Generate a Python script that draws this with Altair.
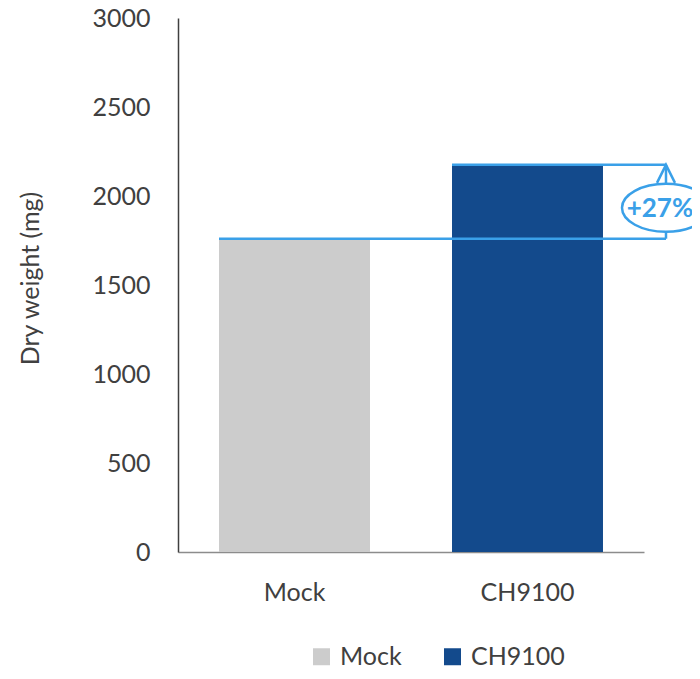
import altair as alt
import pandas as pd

categories = ["Mock", "CH9100"]
values = [1760, 2175]
bar_colors = ["#CCCCCC", "#134A8C"]
y_ticks = [0, 500, 1000, 1500, 2000, 2500, 3000]
pct_label = "+27%"
y_title = "Dry weight (mg)"

FONT = "Lato"
TXT = "#404040"
BLUE = "#3AA0E8"

bars_df = pd.DataFrame({"cat": categories, "value": values})
bracket_df = pd.DataFrame({
    "cat": [categories[1], categories[0]],
    "end": [categories[1], categories[1]],
    "value": [values[1], values[0]],
})
stem_df = pd.DataFrame({"cat": [categories[1]], "value": [values[0]], "value2": [values[1]]})
top_df = pd.DataFrame({"cat": [categories[1]], "value": [values[1]]})
label_df = pd.DataFrame({"cat": [categories[1]], "value": [(values[0] + values[1]) / 2], "label": [pct_label]})

xscale = alt.Scale(domain=categories, paddingInner=0.352, paddingOuter=0.176)
yscale = alt.Scale(domain=[0, 3000])
xaxis = alt.Axis(title=None, labelAngle=0, ticks=False, tickSize=0, labelPadding=28,
                 labelFontSize=25, labelFont=FONT, labelColor=TXT,
                 domainColor="#8C8C8C", domainWidth=1.5, grid=False)
yaxis = alt.Axis(title=y_title, values=y_ticks, format="d", ticks=False, tickSize=0, labelPadding=28,
                 labelFontSize=25, labelFont=FONT, labelColor=TXT,
                 domainColor="#404040", domainWidth=1.5, grid=False,
                 titleFont=FONT, titleFontSize=25, titleFontWeight="normal", titleColor=TXT,
                 titleAngle=270, titleX=-148, titleY=260, titleAlign="center", titleBaseline="middle")

def X(field="cat", **kw):
    return alt.X(f"{field}:N", scale=xscale, axis=xaxis, **kw)

def Y(field="value"):
    return alt.Y(f"{field}:Q", scale=yscale, axis=yaxis)

bars = alt.Chart(bars_df).mark_bar().encode(
    x=X(),
    y=Y(),
    color=alt.Color("cat:N", scale=alt.Scale(domain=categories, range=bar_colors),
                    legend=alt.Legend(title=None, orient="none", direction="horizontal",
                                      legendX=131, legendY=626, symbolType="square",
                                      symbolSize=289, symbolStrokeWidth=0,
                                      labelFontSize=25, labelFont=FONT, labelColor=TXT,
                                      labelOffset=6, columnPadding=38, padding=0)),
)

OFF = 63

brackets = alt.Chart(bracket_df).mark_rule(color=BLUE, strokeWidth=2.5, x2Offset=OFF).encode(
    x=X(bandPosition=0),
    x2=alt.X2("end:N", bandPosition=1),
    y=Y(),
)

stem = alt.Chart(stem_df).mark_rule(color=BLUE, strokeWidth=2.5, xOffset=OFF).encode(
    x=X(bandPosition=1),
    y=Y(),
    y2=alt.Y2("value2:Q"),
)

arrow = alt.Chart(top_df).mark_point(
    shape="M -1 1 L 0 -1 L 1 1", filled=False, color=BLUE, strokeWidth=2.5,
    size=324, opacity=1, xOffset=OFF, yOffset=9,
).encode(x=X(bandPosition=1), y=Y())

ellipse_path = ("M -1 0 C -1 -0.301 -0.552 -0.545 0 -0.545 C 0.552 -0.545 1 -0.301 1 0 "
                "C 1 0.301 0.552 0.545 0 0.545 C -0.552 0.545 -1 0.301 -1 0 Z")
ellipse = alt.Chart(label_df).mark_point(
    shape=ellipse_path, filled=True, fill="white", stroke=BLUE, strokeWidth=2.5,
    size=7744, opacity=1, fillOpacity=1, xOffset=OFF, yOffset=6,
).encode(x=X(bandPosition=1), y=Y())

label = alt.Chart(label_df).mark_text(
    font=FONT, fontSize=26, fontWeight="bold", color=BLUE, align="center",
    baseline="middle", xOffset=OFF - 6, yOffset=7,
).encode(x=X(bandPosition=1), y=Y(), text="label:N")

chart = alt.layer(bars, brackets, stem, arrow, ellipse, label).properties(
    width=466, height=534,
    autosize=alt.AutoSizeParams(type="none"),
    padding={"left": 170, "top": 10, "right": 48, "bottom": 119},
).configure_view(stroke=None)

chart.save("out.html", embed_options={"renderer": "svg", "actions": False})
